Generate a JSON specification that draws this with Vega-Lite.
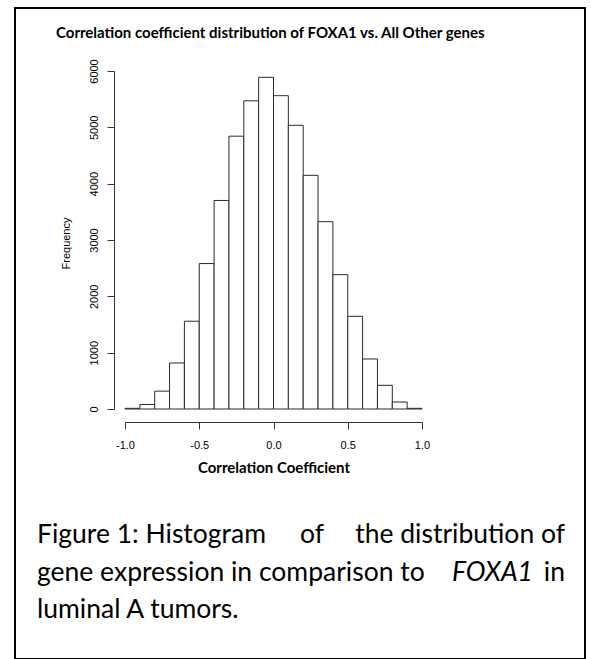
{
  "$schema": "https://vega.github.io/schema/vega-lite/v6.json",
  "width": 570,
  "height": 651,
  "autosize": {"type": "none"},
  "padding": {"left": 15, "top": 8, "right": 6, "bottom": 0},
  "background": "white",
  "config": {"view": {"stroke": "black", "strokeWidth": 2}},
  "title": {
    "text": "Correlation coefficient distribution of FOXA1 vs. All Other genes",
    "anchor": "start",
    "frame": "group",
    "font": "Lato",
    "fontSize": 15,
    "fontWeight": "bold",
    "color": "black",
    "baseline": "alphabetic",
    "offset": -45,
    "dx": 41
  },
  "datasets": {
    "hist": [
      {"bin_start": -1.0, "bin_end": -0.9, "count": 12},
      {"bin_start": -0.9, "bin_end": -0.8, "count": 80},
      {"bin_start": -0.8, "bin_end": -0.7, "count": 317},
      {"bin_start": -0.7, "bin_end": -0.6, "count": 817},
      {"bin_start": -0.6, "bin_end": -0.5, "count": 1558},
      {"bin_start": -0.5, "bin_end": -0.4, "count": 2582},
      {"bin_start": -0.4, "bin_end": -0.3, "count": 3702},
      {"bin_start": -0.3, "bin_end": -0.2, "count": 4843},
      {"bin_start": -0.2, "bin_end": -0.1, "count": 5471},
      {"bin_start": -0.1, "bin_end": 0.0, "count": 5888},
      {"bin_start": 0.0, "bin_end": 0.1, "count": 5562},
      {"bin_start": 0.1, "bin_end": 0.2, "count": 5036},
      {"bin_start": 0.2, "bin_end": 0.3, "count": 4148},
      {"bin_start": 0.3, "bin_end": 0.4, "count": 3325},
      {"bin_start": 0.4, "bin_end": 0.5, "count": 2385},
      {"bin_start": 0.5, "bin_end": 0.6, "count": 1645},
      {"bin_start": 0.6, "bin_end": 0.7, "count": 888},
      {"bin_start": 0.7, "bin_end": 0.8, "count": 420},
      {"bin_start": 0.8, "bin_end": 0.9, "count": 124},
      {"bin_start": 0.9, "bin_end": 1.0, "count": 12}
    ],
    "caption": [
      {"line": 1, "part": "left", "text": "Figure 1: Histogram"},
      {"line": 1, "part": "middle", "text": "of"},
      {"line": 1, "part": "right", "text": "the distribution of"},
      {"line": 2, "part": "left", "text": "gene expression in comparison to"},
      {"line": 2, "part": "right", "text": "FOXA1"},
      {"line": 2, "part": "right", "text": "in"},
      {"line": 3, "part": "left", "text": "luminal A tumors."}
    ]
  },
  "resolve": {"scale": {"x": "independent", "y": "independent"}},
  "layer": [
    {
      "data": {"name": "hist"},
      "mark": {"type": "bar", "fill": "white", "stroke": "#2b2b2b", "strokeWidth": 1},
      "encoding": {
        "x": {
          "field": "bin_start",
          "type": "quantitative",
          "scale": {"domain": [-1, 1], "range": [110, 407], "nice": false, "zero": false},
          "axis": {
            "orient": "bottom",
            "offset": -237,
            "values": [-1, -0.5, 0, 0.5, 1],
            "format": ".1f",
            "labelExpr": "replace(datum.label, '\u2212', '-')",
            "grid": false,
            "domainColor": "#333333",
            "tickColor": "#333333",
            "tickSize": 7,
            "labelPadding": 10,
            "labelFont": "Liberation Sans",
            "labelFontSize": 11,
            "labelColor": "black",
            "labelFlush": false,
            "title": "Correlation Coefficient",
            "titleFont": "Lato",
            "titleFontSize": 15,
            "titleFontWeight": "bold",
            "titleColor": "black",
            "titleBaseline": "alphabetic",
            "titleY": 50
          }
        },
        "x2": {"field": "bin_end"},
        "y": {
          "field": "count",
          "type": "quantitative",
          "scale": {"domain": [0, 6000], "range": [401, 63], "nice": false},
          "axis": {
            "orient": "left",
            "offset": -99,
            "values": [0, 1000, 2000, 3000, 4000, 5000, 6000],
            "format": "d",
            "grid": false,
            "domainColor": "#333333",
            "tickColor": "#333333",
            "tickSize": 7,
            "labelAngle": -90,
            "labelAlign": "center",
            "labelBaseline": "bottom",
            "labelPadding": 8,
            "labelFont": "Liberation Sans",
            "labelFontSize": 11,
            "labelColor": "black",
            "labelFlush": false,
            "title": "Frequency",
            "titleFont": "Liberation Sans",
            "titleFontSize": 11,
            "titleFontWeight": "normal",
            "titleColor": "black",
            "titleAngle": -90,
            "titleAlign": "center",
            "titleBaseline": "middle",
            "titleX": -48,
            "titleY": 235
          }
        },
        "y2": {"datum": 0}
      }
    },
    {
      "data": {"name": "caption"},
      "transform": [{"filter": "datum.part === 'left'"}],
      "mark": {"type": "text", "align": "left", "baseline": "alphabetic", "font": "Lato", "fontSize": 26.5, "color": "black"},
      "encoding": {
        "x": {"field": "part", "type": "nominal", "scale": {"type": "point", "domain": ["left", "middle", "right"], "range": [22, 550], "padding": 0}, "axis": null},
        "y": {"field": "line", "type": "ordinal", "scale": {"type": "point", "domain": [1, 2, 3], "range": [535, 610], "padding": 0}, "axis": null},
        "text": {"field": "text"}
      }
    },
    {
      "data": {"name": "caption"},
      "transform": [{"filter": "datum.part === 'middle'"}],
      "mark": {"type": "text", "align": "center", "baseline": "alphabetic", "font": "Lato", "fontSize": 26.5, "color": "black", "dx": 11},
      "encoding": {
        "x": {"field": "part", "type": "nominal", "scale": {"type": "point", "domain": ["left", "middle", "right"], "range": [22, 550], "padding": 0}, "axis": null},
        "y": {"field": "line", "type": "ordinal", "scale": {"type": "point", "domain": [1, 2, 3], "range": [535, 610], "padding": 0}, "axis": null},
        "text": {"field": "text"}
      }
    },
    {
      "data": {"name": "caption"},
      "transform": [{"filter": "datum.part === 'right' && datum.text !== 'FOXA1'"}],
      "mark": {"type": "text", "align": "right", "baseline": "alphabetic", "font": "Lato", "fontSize": 26.5, "color": "black"},
      "encoding": {
        "x": {"field": "part", "type": "nominal", "scale": {"type": "point", "domain": ["left", "middle", "right"], "range": [22, 550], "padding": 0}, "axis": null},
        "y": {"field": "line", "type": "ordinal", "scale": {"type": "point", "domain": [1, 2, 3], "range": [535, 610], "padding": 0}, "axis": null},
        "text": {"field": "text"}
      }
    },
    {
      "data": {"name": "caption"},
      "transform": [{"filter": "datum.text === 'FOXA1'"}],
      "mark": {"type": "text", "align": "right", "baseline": "alphabetic", "font": "Lato", "fontSize": 26.5, "fontStyle": "italic", "color": "black", "dx": -32},
      "encoding": {
        "x": {"field": "part", "type": "nominal", "scale": {"type": "point", "domain": ["left", "middle", "right"], "range": [22, 550], "padding": 0}, "axis": null},
        "y": {"field": "line", "type": "ordinal", "scale": {"type": "point", "domain": [1, 2, 3], "range": [535, 610], "padding": 0}, "axis": null},
        "text": {"field": "text"}
      }
    }
  ]
}
